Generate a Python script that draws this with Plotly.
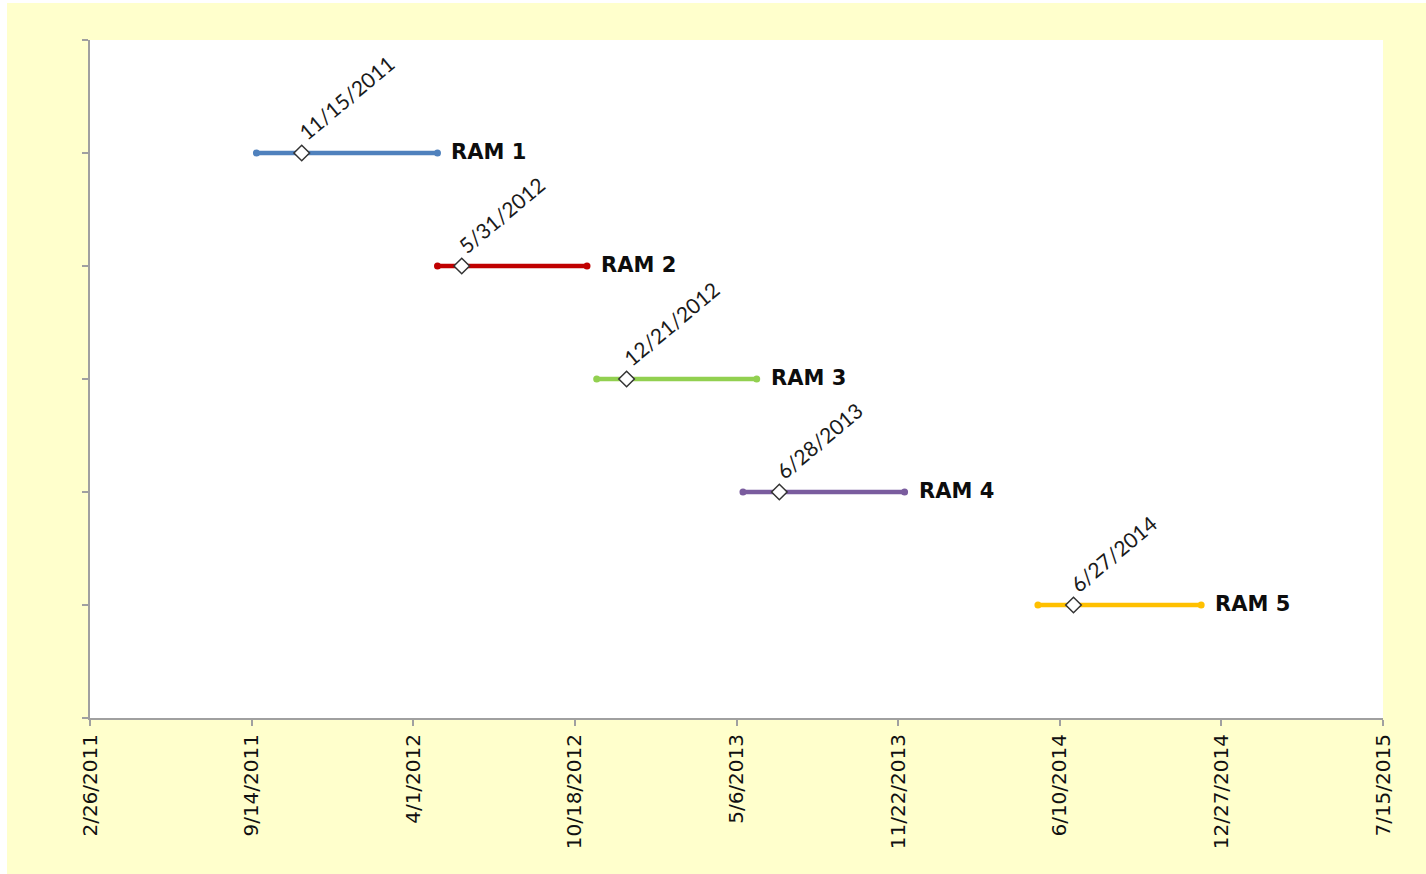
import plotly.graph_objects as go
from datetime import date

# Project phases on a timeline
tasks = ["RAM 1", "RAM 2", "RAM 3", "RAM 4", "RAM 5"]
levels = [5, 4, 3, 2, 1]
starts = ["2011-09-20", "2012-05-01", "2012-11-14", "2013-05-14", "2014-05-14"]
ends = ["2012-05-01", "2012-11-02", "2013-05-31", "2013-11-30", "2014-12-02"]
milestones = ["2011-11-15", "2012-05-31", "2012-12-21", "2013-06-28", "2014-06-27"]
colors = ["#4F81BD", "#C00000", "#92D050", "#7A5C9E", "#FFC000"]

tick_dates = ["2011-02-26", "2011-09-14", "2012-04-01", "2012-10-18", "2013-05-06",
              "2013-11-22", "2014-06-10", "2014-12-27", "2015-07-15"]


def us_date(s):
    d = date.fromisoformat(s)
    return f"{d.month}/{d.day}/{d.year}"


W, H = 1426, 874
ML, MR, MT, MB = 90, 43, 40, 156
PW, PH = W - ML - MR, H - MT - MB

fig = go.Figure()

for name, lvl, s, e, col in zip(tasks, levels, starts, ends, colors):
    fig.add_trace(go.Scatter(
        x=[s, e], y=[lvl, lvl], mode="lines+markers",
        line=dict(color=col, width=4.5),
        marker=dict(color=col, size=7, symbol="circle"),
        showlegend=False, hoverinfo="skip",
    ))

fig.add_trace(go.Scatter(
    x=milestones, y=levels, mode="markers",
    marker=dict(symbol="diamond", size=12, color="white",
                line=dict(color="#333333", width=1.5)),
    showlegend=False, hoverinfo="skip",
))

annotations = []
for name, lvl, e in zip(tasks, levels, ends):
    annotations.append(dict(
        x=e, y=lvl, xref="x", yref="y", text=f"<b>{name}</b>", showarrow=False,
        xanchor="left", yanchor="middle", xshift=12, yshift=1,
        font=dict(family="DejaVu Sans", size=21, color="#0d0d0d"),
    ))
for lvl, m in zip(levels, milestones):
    annotations.append(dict(
        x=m, y=lvl, xref="x", yref="y", text=us_date(m), showarrow=False,
        xanchor="left", yanchor="bottom", textangle=-40,
        xshift=-11, yshift=6,
        font=dict(family="Lato", size=21, color="#1a1a1a"),
    ))

# page border strips (white) outside the yellow chart area
shapes = [
    dict(type="rect", xref="paper", yref="paper", layer="above",
         x0=-ML / PW, x1=(7 - ML) / PW, y0=-MB / PH, y1=1 + MT / PH,
         fillcolor="white", line=dict(width=0)),
    dict(type="rect", xref="paper", yref="paper", layer="above",
         x0=-ML / PW, x1=1 + MR / PW, y0=1 + (MT - 3) / PH, y1=1 + MT / PH,
         fillcolor="white", line=dict(width=0)),
]

fig.update_layout(
    width=W, height=H,
    margin=dict(l=ML, r=MR, t=MT, b=MB),
    paper_bgcolor="#FFFFCC", plot_bgcolor="white",
    annotations=annotations, shapes=shapes,
    xaxis=dict(
        type="date", range=[tick_dates[0], tick_dates[-1]],
        tickvals=tick_dates, ticktext=[us_date(t) for t in tick_dates],
        tickangle=-90, ticks="outside", ticklen=6, tickcolor="#A0A0A0", tickwidth=2,
        showline=True, linecolor="#A0A0A0", linewidth=2,
        showgrid=False, zeroline=False,
        tickfont=dict(family="DejaVu Sans", size=20, color="#111111"),
    ),
    yaxis=dict(
        range=[0, 6], tickvals=[0, 1, 2, 3, 4, 5, 6], showticklabels=False,
        ticks="outside", ticklen=6, tickcolor="#A0A0A0", tickwidth=2,
        showline=True, linecolor="#A0A0A0", linewidth=2,
        showgrid=False, zeroline=False,
    ),
)

fig.write_html("out.html")
